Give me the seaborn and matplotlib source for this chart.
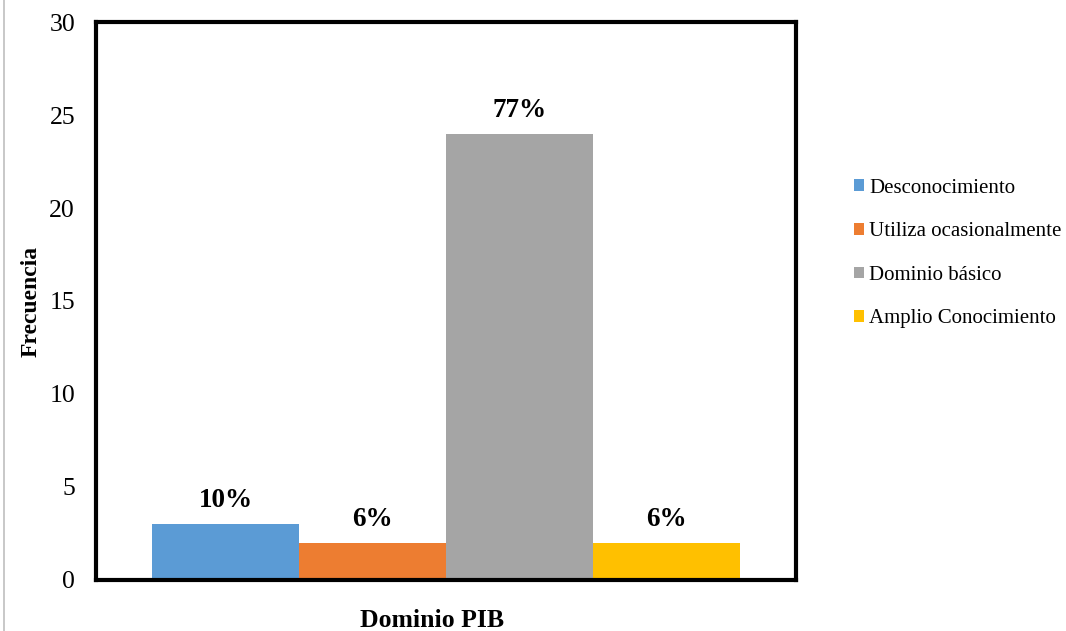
import matplotlib
matplotlib.use('Agg')
import pandas as pd
import seaborn as sns
from matplotlib import pyplot as plt
from matplotlib.lines import Line2D

categories = ['Desconocimiento', 'Utiliza ocasionalmente', 'Dominio básico', 'Amplio Conocimiento']
frecuencia = [3, 2, 24, 2]
porcentajes = ['10%', '6%', '77%', '6%']
colores = ['#5B9BD5', '#ED7D31', '#A5A5A5', '#FFC000']
grupo = 'Dominio PIB'

df = pd.DataFrame({'grupo': [grupo] * len(categories),
                   'categoria': categories,
                   'frecuencia': frecuencia})

sns.set_style('white')
plt.rcParams['font.family'] = ['Liberation Serif', 'DejaVu Serif']
plt.rcParams['text.color'] = 'black'
plt.rcParams['axes.labelcolor'] = 'black'
plt.rcParams['ytick.color'] = 'black'

fig = plt.figure(figsize=(10.66, 6.31), dpi=100)
ax = fig.add_axes([0.09, 0.081, 0.657, 0.884])

sns.barplot(data=df, x='grupo', y='frecuencia', hue='categoria',
            palette=colores, width=0.84, ax=ax, saturation=1, linewidth=0)

for cont, lab in zip(ax.containers, porcentajes):
    ax.bar_label(cont, labels=[lab], padding=8, fontsize=19.5,
                 fontweight='bold', color='black')

ax.set_xlim(-0.5, 0.5)
ax.set_ylim(0, 30)
ax.set_yticks(range(0, 31, 5))
ax.set_xticks([])
ax.tick_params(axis='y', labelsize=18.5, length=0, pad=15)
ax.set_ylabel('Frecuencia', fontsize=17, fontweight='bold')
ax.yaxis.set_label_coords(-0.078, 0.5)
ax.set_xlabel('Dominio PIB', fontsize=18.5, fontweight='bold')
ax.xaxis.set_label_coords(0.48, -0.052)

for s in ax.spines.values():
    s.set_visible(True)
    s.set_color('black')
    s.set_linewidth(3)

ax.legend(loc='upper left', bbox_to_anchor=(0.793, 0.73), bbox_transform=fig.transFigure,
          frameon=False, fontsize=15, handlelength=0.5, handleheight=0.5,
          handletextpad=0.25, labelspacing=1.18, borderaxespad=0)

fig.add_artist(Line2D([0.004, 0.004], [0, 1], color='#BFBFBF', lw=1.2,
                      transform=fig.transFigure))

fig.savefig('out.png', dpi=100)
